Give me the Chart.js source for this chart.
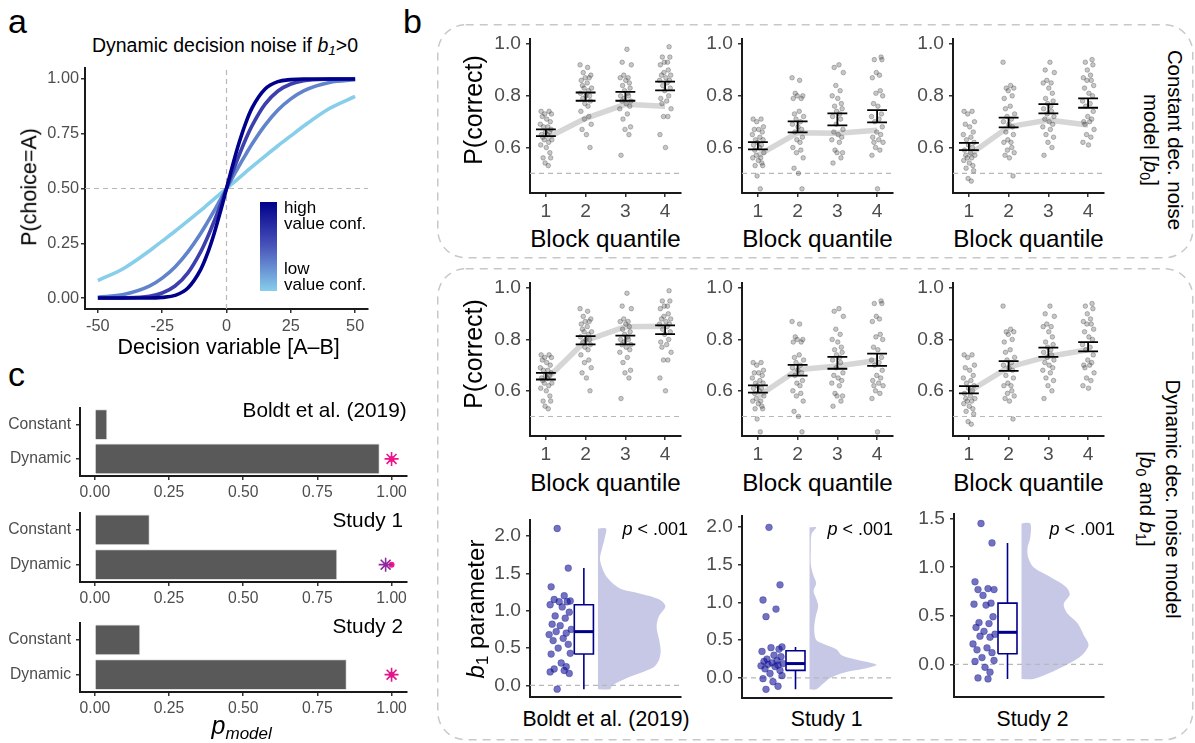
<!DOCTYPE html>
<html>
<head>
<meta charset="utf-8">
<script src="https://cdn.jsdelivr.net/npm/chart.js@4.4.1/dist/chart.umd.min.js"></script>
<style>
  html, body { margin: 0; padding: 0; background: #fff; }
  body { width: 1195px; height: 743px; position: relative; overflow: hidden;
         font-family: 'Liberation Sans', Arial, sans-serif; }
  canvas { position: absolute; }
  .t { position: absolute; white-space: nowrap; line-height: 1; color: #000; }
  .t sub { font-size: 0.7em; vertical-align: -0.25em; line-height: 0; }
  .cbar { position: absolute; left: 260px; top: 202px; width: 17px; height: 89px;
          background: linear-gradient(to bottom, #00008b, #4a55bb 50%, #87ceeb); }
</style>
</head>
<body>
<svg width="1195" height="743" style="position:absolute;left:0;top:0">
  <rect x="437.75" y="24.75" width="755" height="233" rx="28" fill="none" stroke="#c8c8c8" stroke-width="1.5" stroke-dasharray="8 6"/>
  <rect x="437.75" y="268.75" width="755" height="471" rx="28" fill="none" stroke="#c8c8c8" stroke-width="1.5" stroke-dasharray="8 6"/>
</svg>
<div class="cbar"></div>
<script>
Chart.defaults.font.family = "'Liberation Sans', Arial, sans-serif";
Chart.defaults.animation = false;
Chart.defaults.plugins.legend.display = false;
Chart.defaults.plugins.tooltip.enabled = false;

// ---------- panel a: choice curves ----------
const DV = [-50, -40, -30, -25, -20, -15, -10, -7.5, -5, -2.5, 0, 2.5, 5, 7.5, 10, 15, 20, 25, 30, 40, 50];
const P_CONF_LOW = [0.080, 0.135, 0.215, 0.260, 0.305, 0.352, 0.400, 0.425, 0.450, 0.475, 0.500, 0.525, 0.550, 0.575, 0.600, 0.648, 0.695, 0.740, 0.785, 0.865, 0.920];
const P_CONF_MIDLOW = [0.004, 0.016, 0.054, 0.091, 0.142, 0.211, 0.296, 0.344, 0.394, 0.447, 0.500, 0.553, 0.606, 0.656, 0.704, 0.789, 0.858, 0.909, 0.946, 0.984, 0.996];
const P_CONF_MIDHIGH = [0.000, 0.001, 0.008, 0.023, 0.055, 0.115, 0.212, 0.274, 0.345, 0.421, 0.500, 0.579, 0.655, 0.726, 0.788, 0.885, 0.945, 0.977, 0.992, 0.999, 1.000];
const P_CONF_HIGH = [0.000, 0.000, 0.000, 0.003, 0.012, 0.046, 0.131, 0.200, 0.287, 0.389, 0.500, 0.611, 0.713, 0.800, 0.869, 0.954, 0.988, 0.997, 1.000, 1.000, 1.000];
const DV_TICKS = [-50, -25, 0, 25, 50];
const P_TICKS = [0, 0.25, 0.5, 0.75, 1];

// ---------- panel b: accuracy per block quantile ----------
const QUANTILES = [1, 2, 3, 4];
const ACC_TICKS = [0.6, 0.8, 1.0];
const CHANCE = 0.5;
const ACC_BOLDT = [
  [0.74, 0.74, 0.73, 0.73, 0.72, 0.71, 0.70, 0.69, 0.68, 0.68, 0.67, 0.66, 0.66, 0.65, 0.65, 0.64, 0.63, 0.63, 0.62, 0.61, 0.60, 0.58, 0.56, 0.56, 0.54, 0.53],
  [0.92, 0.91, 0.89, 0.88, 0.87, 0.87, 0.86, 0.85, 0.84, 0.83, 0.83, 0.82, 0.81, 0.80, 0.80, 0.79, 0.78, 0.77, 0.76, 0.74, 0.72, 0.71, 0.69, 0.67, 0.65, 0.60],
  [0.98, 0.93, 0.92, 0.88, 0.87, 0.87, 0.86, 0.85, 0.84, 0.83, 0.82, 0.81, 0.80, 0.80, 0.79, 0.78, 0.78, 0.77, 0.76, 0.75, 0.73, 0.71, 0.68, 0.67, 0.65, 0.57],
  [0.99, 0.95, 0.95, 0.93, 0.93, 0.92, 0.90, 0.89, 0.88, 0.88, 0.87, 0.86, 0.86, 0.85, 0.84, 0.83, 0.82, 0.80, 0.79, 0.78, 0.77, 0.75, 0.72, 0.72, 0.65, 0.60],
];
const ACC_STUDY1 = [
  [0.71, 0.71, 0.70, 0.68, 0.67, 0.67, 0.66, 0.65, 0.64, 0.63, 0.63, 0.62, 0.61, 0.61, 0.60, 0.59, 0.58, 0.57, 0.56, 0.56, 0.55, 0.54, 0.53, 0.53, 0.49, 0.44],
  [0.87, 0.86, 0.81, 0.80, 0.80, 0.79, 0.79, 0.74, 0.73, 0.72, 0.71, 0.70, 0.69, 0.68, 0.67, 0.66, 0.64, 0.63, 0.62, 0.60, 0.59, 0.58, 0.56, 0.52, 0.50, 0.44],
  [0.92, 0.91, 0.89, 0.84, 0.82, 0.80, 0.79, 0.77, 0.76, 0.75, 0.74, 0.73, 0.72, 0.71, 0.69, 0.67, 0.66, 0.65, 0.64, 0.63, 0.62, 0.59, 0.58, 0.58, 0.56, 0.54],
  [0.95, 0.94, 0.94, 0.89, 0.88, 0.87, 0.82, 0.81, 0.80, 0.77, 0.76, 0.73, 0.72, 0.71, 0.70, 0.68, 0.66, 0.65, 0.64, 0.63, 0.62, 0.62, 0.60, 0.59, 0.57, 0.44],
];
const ACC_STUDY2 = [
  [0.74, 0.74, 0.73, 0.70, 0.69, 0.68, 0.66, 0.65, 0.64, 0.63, 0.62, 0.61, 0.60, 0.59, 0.58, 0.57, 0.57, 0.56, 0.56, 0.55, 0.54, 0.53, 0.52, 0.51, 0.48, 0.47],
  [0.93, 0.84, 0.83, 0.83, 0.82, 0.80, 0.79, 0.76, 0.75, 0.73, 0.72, 0.71, 0.70, 0.69, 0.68, 0.66, 0.65, 0.63, 0.62, 0.62, 0.60, 0.59, 0.58, 0.57, 0.56, 0.49],
  [0.93, 0.90, 0.89, 0.86, 0.85, 0.85, 0.83, 0.81, 0.79, 0.78, 0.77, 0.76, 0.75, 0.74, 0.73, 0.72, 0.71, 0.70, 0.69, 0.68, 0.67, 0.65, 0.64, 0.62, 0.60, 0.57],
  [0.94, 0.93, 0.92, 0.90, 0.88, 0.87, 0.86, 0.86, 0.84, 0.83, 0.81, 0.80, 0.78, 0.77, 0.76, 0.74, 0.72, 0.71, 0.70, 0.70, 0.69, 0.67, 0.65, 0.64, 0.62, 0.61],
];
const MEAN_BOLDT = [0.657, 0.797, 0.798, 0.838];
const SE_BOLDT = [0.013, 0.016, 0.017, 0.017];
const MEAN_STUDY1 = [0.607, 0.680, 0.709, 0.721];
const SE_STUDY1 = [0.014, 0.021, 0.023, 0.024];
const MEAN_STUDY2 = [0.604, 0.697, 0.750, 0.772];
const SE_STUDY2 = [0.014, 0.019, 0.018, 0.018];
const FIT_CONST_BOLDT = [0.635, 0.713, 0.767, 0.760];
const FIT_CONST_STUDY1 = [0.570, 0.657, 0.655, 0.667];
const FIT_CONST_STUDY2 = [0.570, 0.680, 0.706, 0.687];
const FIT_DYN_BOLDT = [0.643, 0.795, 0.850, 0.852];
const FIT_DYN_STUDY1 = [0.578, 0.682, 0.697, 0.718];
const FIT_DYN_STUDY2 = [0.597, 0.692, 0.734, 0.760];
const JITTER = [-0.12, 0.08, -0.03, 0.14, -0.09, 0.02, 0.11, -0.14, 0.05, -0.06, 0.13, -0.01, 0.09,
                -0.11, 0.04, -0.08, 0.15, -0.04, 0.07, -0.13, 0.01, 0.10, -0.07, 0.12, -0.02, 0.06];

// ---------- panel b: b1 parameter ----------
const B1_BOLDT = [2.10, 1.57, 1.32, 1.20, 1.15, 1.13, 1.12, 1.12, 1.08, 1.05, 0.98, 0.93, 0.90, 0.82, 0.80, 0.75,
                  0.72, 0.70, 0.68, 0.63, 0.60, 0.55, 0.50, 0.43, 0.42, 0.30, 0.25, 0.22, 0.20, 0.18, 0.16, -0.05];
const B1_STUDY1 = [1.99, 1.23, 1.03, 0.91, 0.81, 0.41, 0.40, 0.38, 0.35, 0.30, 0.28, 0.25, 0.23, 0.22,
                   0.20, 0.19, 0.18, 0.17, 0.16, 0.15, 0.12, 0.10, 0.06, 0.03, -0.01, -0.05, -0.11, -0.15];
const B1_STUDY2 = [1.45, 1.25, 0.85, 0.78, 0.77, 0.77, 0.71, 0.63, 0.62, 0.61, 0.49, 0.43, 0.42, 0.38, 0.34,
                   0.31, 0.29, 0.28, 0.21, 0.17, 0.15, 0.12, 0.07, 0.04, 0.03, -0.03, -0.08, -0.14, -0.15];
// min, q1, median, q3, max (whisker ends)
const BOX_BOLDT = [-0.05, 0.42, 0.72, 1.08, 1.57];
const BOX_STUDY1 = [-0.15, 0.10, 0.19, 0.36, 0.41];
const BOX_STUDY2 = [-0.15, 0.11, 0.33, 0.63, 1.25];
const DENS_Y_BOLDT = [-0.05, 0.00, 0.10, 0.24, 0.33, 0.45, 0.60, 0.78, 0.92, 1.06, 1.15, 1.23, 1.30, 1.45, 1.58, 1.70, 1.83, 1.97, 2.10];
const DENS_BOLDT = [0.18, 0.21, 0.43, 0.82, 0.90, 0.93, 0.91, 0.87, 0.90, 1.00, 0.91, 0.62, 0.32, 0.13, 0.06, 0.03, 0.06, 0.10, 0.12];
const DENS_Y_STUDY1 = [-0.15, -0.07, 0.00, 0.07, 0.12, 0.17, 0.20, 0.25, 0.30, 0.38, 0.45, 0.50, 0.65, 0.80, 0.95, 1.05, 1.15, 1.25, 1.35, 1.50, 1.70, 1.90, 1.99];
const DENS_STUDY1 = [0.10, 0.21, 0.31, 0.51, 0.81, 1.00, 0.91, 0.66, 0.48, 0.40, 0.21, 0.10, 0.07, 0.09, 0.13, 0.10, 0.06, 0.10, 0.06, 0.02, 0.02, 0.03, 0.10];
const DENS_Y_STUDY2 = [-0.15, -0.07, 0.00, 0.10, 0.20, 0.30, 0.42, 0.52, 0.62, 0.72, 0.80, 0.90, 1.00, 1.10, 1.20, 1.30, 1.45];
const DENS_STUDY2 = [0.18, 0.48, 0.69, 0.91, 1.00, 0.93, 0.84, 0.69, 0.63, 0.72, 0.66, 0.43, 0.18, 0.10, 0.09, 0.13, 0.13];
const B1_TICKS = [0, 0.5, 1, 1.5, 2];
const B1_TICKS_STUDY2 = [0, 0.5, 1, 1.5];
const RC_JITTER = [-3, 8, -9, 4, -6, 10, -1, 7, -10, 2, 9, -5, 5, -8, 0, 11, -4, 6, -11, 3, -7, 8, -2, 10, -9, 1, 6, -6, 4, -10, 9, -3];

// ---------- panel c: model probabilities ----------
const MODELS = ['Constant', 'Dynamic'];
const PMODEL_BOLDT = [0.041, 0.959];
const PMODEL_STUDY1 = [0.184, 0.816];
const PMODEL_STUDY2 = [0.152, 0.848];
const PXP_STAR_BOLDT = [null, 1.00];
const PXP_STAR_STUDY1 = [null, 0.98];
const PXP_STAR_STUDY2 = [null, 1.00];
const PXP_DOT_BOLDT = [null, 1.00];
const PXP_DOT_STUDY1 = [null, 1.00];
const PXP_DOT_STUDY2 = [null, 1.00];
const PMODEL_TICKS = [0, 0.25, 0.5, 0.75, 1];

// ---------- styles / layout ----------
const CONF_COLOURS = ['#87ceeb', '#6083cb', '#3c3fac', '#00008b'];
const NAVY = '#00008b';
const CAP = 0.25;
const RC = { dotX: 30, boxL: 44, boxR: 63, mid: 53.5, violinX: 67.5, violinW: 67, xMax: 150 };

function linAxis(min, max, vals, digits, size, pad, show = true) {
  return {
    type: 'linear', min, max, bounds: 'data',
    afterBuildTicks: s => { s.ticks = vals.map(v => ({ value: v })); },
    border: { display: true, color: '#1a1a1a', width: 2 },
    grid: { display: true, drawOnChartArea: false, drawTicks: show, tickLength: 4, color: '#333', lineWidth: 1.5 },
    ticks: { display: show, color: '#4d4d4d', font: { size }, padding: pad, maxRotation: 0, autoSkip: false,
             callback: v => v.toFixed(digits) },
  };
}

// place a chart so that its plot area lands exactly on area {l, t, r, b}
function mount(area, yw, xh, pad, config) {
  const cv = document.createElement('canvas');
  const left = Math.round(area.l - yw - pad.l), top = Math.round(area.t - pad.t);
  const w = Math.round(area.r + pad.r) - left, h = Math.round(area.b + xh + pad.b) - top;
  cv.width = w; cv.height = h;
  cv.style.left = left + 'px'; cv.style.top = top + 'px';
  cv.style.width = w + 'px'; cv.style.height = h + 'px';
  document.body.appendChild(cv);
  const o = config.options;
  o.responsive = false;
  o.devicePixelRatio = 1;
  o.layout = { padding: { left: pad.l, right: pad.r, top: pad.t, bottom: pad.b } };
  o.scales.x.afterFit = s => { s.height = xh; s.paddingLeft = 0; s.paddingRight = 0; };
  o.scales.y.afterFit = s => { s.width = yw; s.paddingTop = 0; s.paddingBottom = 0; };
  return new Chart(cv, config);
}

function text(html, x, baseline, size, align = 'left', extra = '') {
  const d = document.createElement('div');
  d.className = 't';
  d.innerHTML = html;
  const ax = align === 'center' ? '-50%' : align === 'right' ? '-100%' : '0';
  d.style.cssText = `left:${x}px;top:${baseline - 0.846 * size}px;font-size:${size}px;transform:translateX(${ax});${extra}`;
  document.body.appendChild(d);
}

function vtext(html, cx, cy, size, deg, lh) {
  const d = document.createElement('div');
  d.className = 't';
  d.innerHTML = html;
  d.style.cssText = `left:${cx}px;top:${cy}px;font-size:${size}px;line-height:${lh || size}px;text-align:center;` +
                    `transform:translate(-50%,-50%) rotate(${deg}deg);`;
  document.body.appendChild(d);
}

function dashed(points, order) {
  return { data: points, showLine: true, borderColor: '#b8b8b8', borderWidth: 1.2, borderDash: [5, 4],
           pointRadius: 0, order };
}

// ---------- panel a ----------
const CURVES = [P_CONF_LOW, P_CONF_MIDLOW, P_CONF_MIDHIGH, P_CONF_HIGH];
mount({ l: 85, t: 68, r: 368, b: 309 }, 50, 30, { l: 0, r: 12, t: 8, b: 0 }, {
  type: 'scatter',
  data: {
    datasets: [
      ...CURVES.map((p, k) => ({
        data: DV.map((x, i) => ({ x, y: p[i] })), showLine: true, cubicInterpolationMode: 'monotone',
        borderColor: CONF_COLOURS[k], borderWidth: 3.6, pointRadius: 0, order: 4 - k,
      })),
      dashed([{ x: -55, y: 0.5 }, { x: 55, y: 0.5 }], 10),
      dashed([{ x: 0, y: -0.05 }, { x: 0, y: 1.05 }], 10),
    ],
  },
  options: { scales: { x: linAxis(-55, 55, DV_TICKS, 0, 16.3, 4), y: linAxis(-0.05, 1.05, P_TICKS, 2, 16.3, 2) } },
});

// ---------- panel b: accuracy rows ----------
function accuracyChart(area, acc, mean, se, fit) {
  const dots = [];
  acc.forEach((vals, g) => vals.forEach((v, i) => {
    dots.push({ x: QUANTILES[g] + JITTER[(i + 7 * g) % JITTER.length], y: v });
  }));
  const bars = [];
  QUANTILES.forEach((q, g) => {
    const lo = mean[g] - se[g], hi = mean[g] + se[g];
    bars.push({ x: q - CAP, y: hi }, { x: q + CAP, y: hi }, { x: q, y: null },
              { x: q, y: lo }, { x: q, y: hi }, { x: q, y: null },
              { x: q - CAP, y: lo }, { x: q + CAP, y: lo }, { x: q, y: null });
  });
  return mount(area, 45, 30, { l: 0, r: 8, t: 10, b: 0 }, {
    type: 'scatter',
    data: {
      datasets: [
        dashed([{ x: 0.6, y: CHANCE }, { x: 4.4, y: CHANCE }], 6),
        { data: QUANTILES.map((q, g) => ({ x: q, y: fit[g] })), showLine: true, borderColor: '#d6d6d6',
          borderWidth: 5.5, pointRadius: 0, order: 5 },
        { data: dots, pointRadius: 2.3, pointBackgroundColor: 'rgba(70,70,70,0.3)',
          pointBorderColor: 'rgba(60,60,60,0.4)', pointBorderWidth: 0.8, order: 4 },
        { data: bars, showLine: true, borderColor: '#000', borderWidth: 1.8, pointRadius: 0, order: 1 },
      ],
    },
    options: { scales: { x: linAxis(0.6, 4.4, QUANTILES, 0, 19.2, 3), y: linAxis(0.424, 1.02, ACC_TICKS, 1, 19.2, 5) } },
  });
}

const COLS = [[530, 681], [742, 893], [953, 1104]];
const ROW1 = { t: 39, b: 193 }, ROW2 = { t: 283, b: 436 };
accuracyChart({ l: COLS[0][0], r: COLS[0][1], ...ROW1 }, ACC_BOLDT, MEAN_BOLDT, SE_BOLDT, FIT_CONST_BOLDT);
accuracyChart({ l: COLS[1][0], r: COLS[1][1], ...ROW1 }, ACC_STUDY1, MEAN_STUDY1, SE_STUDY1, FIT_CONST_STUDY1);
accuracyChart({ l: COLS[2][0], r: COLS[2][1], ...ROW1 }, ACC_STUDY2, MEAN_STUDY2, SE_STUDY2, FIT_CONST_STUDY2);
accuracyChart({ l: COLS[0][0], r: COLS[0][1], ...ROW2 }, ACC_BOLDT, MEAN_BOLDT, SE_BOLDT, FIT_DYN_BOLDT);
accuracyChart({ l: COLS[1][0], r: COLS[1][1], ...ROW2 }, ACC_STUDY1, MEAN_STUDY1, SE_STUDY1, FIT_DYN_STUDY1);
accuracyChart({ l: COLS[2][0], r: COLS[2][1], ...ROW2 }, ACC_STUDY2, MEAN_STUDY2, SE_STUDY2, FIT_DYN_STUDY2);

// ---------- panel b: b1 raincloud row ----------
function b1Chart(area, yMin, yMax, ticks, b1, box, densY, dens) {
  const [lo, q1, med, q3, hi] = box;
  const dots = b1.map((v, i) => ({ x: RC.dotX + RC_JITTER[i % RC_JITTER.length], y: v }));
  const violin = [{ x: RC.violinX, y: densY[0] },
    ...densY.map((y, i) => ({ x: RC.violinX + dens[i] * RC.violinW, y })),
    { x: RC.violinX, y: densY[densY.length - 1] }];
  const whiskers = [{ x: RC.mid, y: lo }, { x: RC.mid, y: q1 }, { x: RC.mid, y: null },
                    { x: RC.mid, y: q3 }, { x: RC.mid, y: hi }];
  const rect = [{ x: RC.boxL, y: q1 }, { x: RC.boxR, y: q1 }, { x: RC.boxR, y: q3 },
                { x: RC.boxL, y: q3 }, { x: RC.boxL, y: q1 }];
  const median = [{ x: RC.boxL, y: med }, { x: RC.boxR, y: med }];
  return mount(area, 45, 4, { l: 0, r: 14, t: 10, b: 2 }, {
    type: 'scatter',
    data: {
      datasets: [
        dashed([{ x: 0, y: 0 }, { x: RC.xMax, y: 0 }], 5),
        { data: violin, showLine: true, fill: 'shape', backgroundColor: 'rgba(0,0,139,0.22)',
          borderColor: 'rgba(0,0,0,0)', borderWidth: 0, pointRadius: 0, tension: 0.3, order: 6 },
        { data: whiskers, showLine: true, borderColor: NAVY, borderWidth: 1.6, pointRadius: 0, order: 3 },
        { data: rect, showLine: true, fill: 'shape', backgroundColor: '#fff', borderColor: NAVY,
          borderWidth: 1.6, pointRadius: 0, order: 2 },
        { data: median, showLine: true, borderColor: NAVY, borderWidth: 3, pointRadius: 0, order: 1 },
        { data: dots, pointRadius: 3.4, pointBackgroundColor: 'rgba(20,20,150,0.6)',
          pointBorderColor: 'rgba(20,20,150,0.6)', pointBorderWidth: 0.5, order: 0 },
      ],
    },
    options: { scales: { x: linAxis(0, RC.xMax, [0], 0, 19.2, 3, false), y: linAxis(yMin, yMax, ticks, 1, 19.2, 5) } },
  });
}

b1Chart({ l: 530, t: 520, r: 681, b: 697 }, -0.155, 2.214, B1_TICKS, B1_BOLDT, BOX_BOLDT, DENS_Y_BOLDT, DENS_BOLDT);
b1Chart({ l: 742, t: 516, r: 892, b: 698 }, -0.265, 2.14, B1_TICKS, B1_STUDY1, BOX_STUDY1, DENS_Y_STUDY1, DENS_STUDY1);
b1Chart({ l: 954, t: 514, r: 1104, b: 697 }, -0.336, 1.548, B1_TICKS_STUDY2, B1_STUDY2, BOX_STUDY2, DENS_Y_STUDY2, DENS_STUDY2);

// ---------- panel c ----------
function modelChart(area, vals, star, dot, starColour) {
  return mount(area, 80, 26, { l: 0, r: 8, t: 4, b: 0 }, {
    type: 'bar',
    data: {
      labels: MODELS,
      datasets: [
        { type: 'line', indexAxis: 'y', data: star, showLine: false, pointStyle: 'star', pointRadius: 7,
          pointBorderColor: starColour, pointBorderWidth: 1.6, order: 0 },
        { type: 'line', indexAxis: 'y', data: dot, showLine: false, pointStyle: 'circle', pointRadius: 3,
          pointBackgroundColor: '#ff1493', pointBorderColor: '#ff1493', pointBorderWidth: 0, order: 1 },
        { data: vals, backgroundColor: '#595959', borderColor: '#e0e0e0', borderWidth: 1, barThickness: 30, order: 2 },
      ],
    },
    options: {
      indexAxis: 'y',
      scales: {
        x: linAxis(-0.05, 1.05, PMODEL_TICKS, 2, 15.7, 3),
        y: {
          type: 'category', offset: true,
          border: { display: true, color: '#1a1a1a', width: 2 },
          grid: { display: true, drawOnChartArea: false, offset: false, tickLength: 4, color: '#333', lineWidth: 1.5 },
          ticks: { color: '#4d4d4d', font: { size: 15.7 }, padding: 5 },
        },
      },
    },
  });
}

modelChart({ l: 80, t: 403, r: 407, b: 476 }, PMODEL_BOLDT, PXP_STAR_BOLDT, PXP_DOT_BOLDT, '#ee1488');
modelChart({ l: 80, t: 508, r: 407, b: 582 }, PMODEL_STUDY1, PXP_STAR_STUDY1, PXP_DOT_STUDY1, '#8e2a9e');
modelChart({ l: 80, t: 618, r: 407, b: 692 }, PMODEL_STUDY2, PXP_STAR_STUDY2, PXP_DOT_STUDY2, '#e0168c');

// ---------- text ----------
text('a', 8, 33, 34);
text('b', 403, 33, 34);
text('c', 8, 386, 34);

text('Dynamic decision noise if <i>b<sub>1</sub></i>&gt;0', 225, 52, 19.5, 'center');
vtext('P(choice=A)', 30, 187, 21.5, -90);
text('Decision variable [A–B]', 228.7, 355, 21.5, 'center');
text('high', 284, 213.3, 17);
text('value conf.', 284, 229.3, 17);
text('low', 284, 274.3, 17);
text('value conf.', 284, 290.7, 17);

text('Boldt et al. (2019)', 406.7, 418, 20.8, 'right');
text('Study 1', 403, 528, 20.8, 'right');
text('Study 2', 403, 634, 20.8, 'right');
text('<i>p</i><i style="font-size:17px;vertical-align:-5px">model</i>', 241.7, 734, 25, 'center');

vtext('P(correct)', 473, 110, 25, -90);
vtext('P(correct)', 473, 354, 25, -90);
[605.5, 817.5, 1028.5].forEach(cx => {
  text('Block quantile', cx, 247, 24.2, 'center');
  text('Block quantile', cx, 491, 24.2, 'center');
});
vtext('<i>b</i><sub>1</sub> parameter', 476, 609, 24, -90);
text('Boldt et al. (2019)', 606, 726, 21.2, 'center');
text('Study 1', 826.7, 726, 21.2, 'center');
text('Study 2', 1032.5, 726, 21.2, 'center');
text('<i>p</i> &lt; .001', 688, 535.5, 18, 'right');
text('<i>p</i> &lt; .001', 893, 535.5, 18, 'right');
text('<i>p</i> &lt; .001', 1115, 535.5, 18, 'right');

vtext('Constant dec. noise<br>model [<i>b</i><sub>0</sub>]', 1163, 140, 20.4, 90, 24);
vtext('Dynamic dec. noise model<br>[<i>b</i><sub>0</sub> and <i>b</i><sub>1</sub>]', 1160, 499, 20.4, 90, 26);
</script>
</body>
</html>
